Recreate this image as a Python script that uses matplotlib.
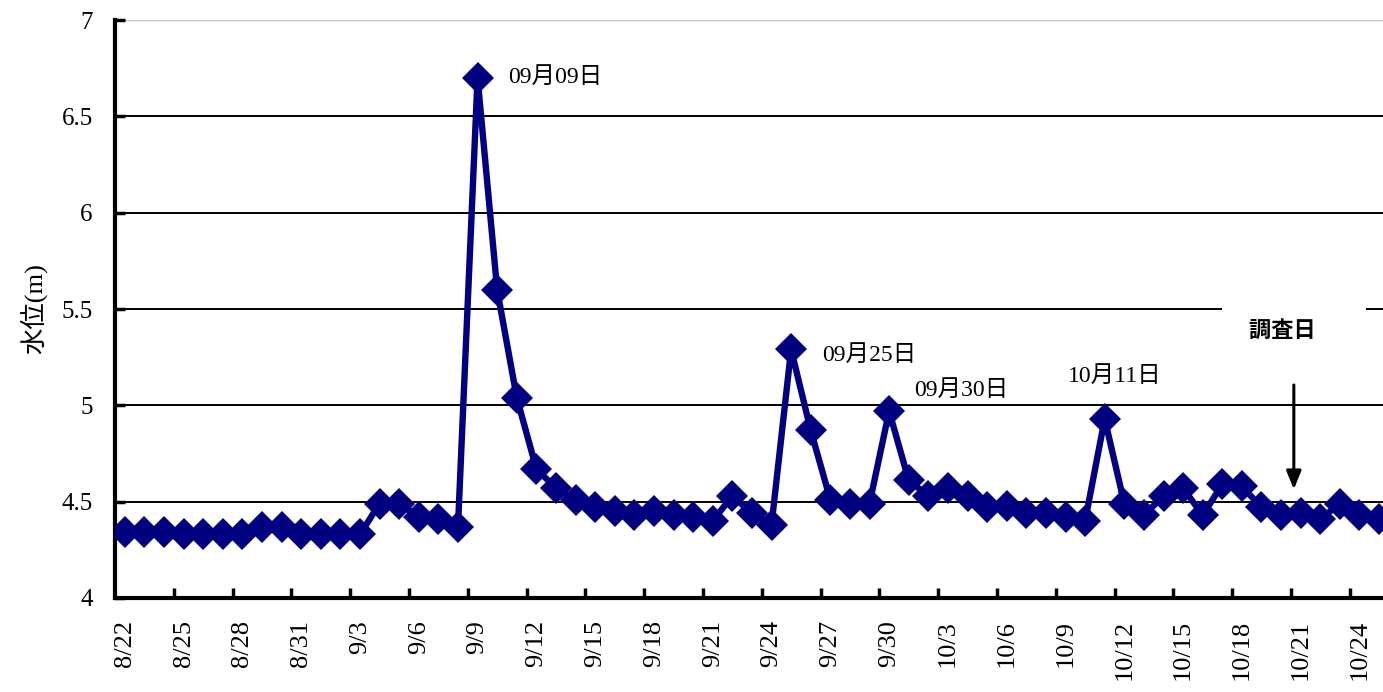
import datetime as dt
import matplotlib
matplotlib.use("Agg")
from matplotlib import pyplot as plt

# daily water level, 8/22 .. 10/25
start = dt.date(2009, 8, 22)
levels = [4.34, 4.34, 4.34, 4.33, 4.33, 4.33, 4.33, 4.37, 4.37, 4.33,
          4.33, 4.33, 4.33, 4.49, 4.49, 4.42, 4.41, 4.37, 6.70, 5.60,
          5.04, 4.67, 4.57, 4.51, 4.47, 4.45, 4.43, 4.45, 4.43, 4.42,
          4.40, 4.53, 4.44, 4.38, 5.29, 4.87, 4.51, 4.49, 4.49, 4.97,
          4.61, 4.53, 4.57, 4.53, 4.47, 4.48, 4.44, 4.44, 4.42, 4.40,
          4.93, 4.49, 4.43, 4.53, 4.57, 4.43, 4.59, 4.58, 4.47, 4.43,
          4.44, 4.41, 4.49, 4.43, 4.41]
dates = [start + dt.timedelta(days=i) for i in range(len(levels))]
tick_labels = [f"{d.month}/{d.day}" for d in dates]

# peak labels: (index, text, x offset, y)
peaks = [(18, "09月09日", 19.55, 6.70),
         (34, "09月25日", 35.6, 5.26),
         (39, "09月30日", 40.3, 5.08),
         (50, "10月11日", 48.1, 5.15)]
survey_idx = 59.65
survey_label = "調査日"

serif_jp = ["Liberation Serif", "Noto Sans CJK JP"]

fig = plt.figure(figsize=(13.83, 6.92), dpi=100)
ax = fig.add_axes([115 / 1383, 1 - 598 / 692, 1 - 115 / 1383, (598 - 20) / 692])

x = list(range(len(levels)))
ax.plot(x, levels, color="#000080", lw=4.6, marker="D", ms=16,
        markeredgewidth=0, zorder=3, clip_on=True)

ax.set_xlim(-0.5, 64.2)
ax.set_ylim(4, 7)
ax.set_yticks([4, 4.5, 5, 5.5, 6, 6.5, 7])
ax.set_yticklabels(["4", "4.5", "5", "5.5", "6", "6.5", "7"],
                   fontfamily="Liberation Serif", fontsize=18)
for yv in [4.5, 5, 5.5, 6, 6.5]:
    ax.axhline(yv, color="black", lw=1.4, zorder=1)
ax.axhline(7, color="#c0c0c0", lw=1.0, zorder=1)

ax.set_xticks(x[::3])
ax.set_xticklabels(tick_labels[::3], rotation=90, fontfamily="Liberation Serif",
                   fontsize=19, va="top")
ax.set_xticks([i + 2.5 for i in range(0, 63, 3)], minor=True)
ax.tick_params(axis="x", which="major", length=0, pad=16)
ax.tick_params(axis="x", which="minor", direction="in", length=7, width=2.5)
ax.tick_params(axis="y", direction="in", length=7, width=2.5, pad=16)

for s in ["top", "right"]:
    ax.spines[s].set_visible(False)
ax.spines["left"].set_linewidth(3)
ax.spines["bottom"].set_linewidth(3)

ax.set_ylabel("水位(m)", family=serif_jp, fontsize=19, labelpad=10)

for i, txt, tx, ty in peaks:
    ax.text(tx, ty, txt, family=serif_jp, fontsize=17, va="center", ha="left")

ax.text(survey_idx, 5.39, survey_label + "\u3000", family="Noto Sans CJK JP",
        fontweight="bold", fontsize=16, ha="center", va="center", zorder=4,
        bbox=dict(boxstyle="square,pad=1.25", fc="white", ec="none"))
ax.annotate("", xy=(survey_idx, 4.55), xytext=(survey_idx, 5.12),
            arrowprops=dict(arrowstyle="-|>,head_width=0.45,head_length=1.1",
                            color="black", lw=2.2), zorder=4)

fig.savefig("out.png", dpi=100)
